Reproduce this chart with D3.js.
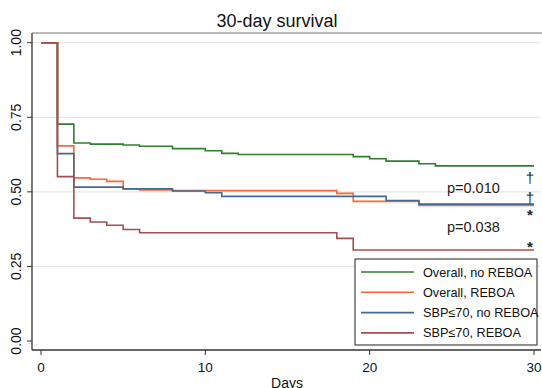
<!DOCTYPE html>
<html>
<head>
<meta charset="utf-8">
<script src="https://cdn.jsdelivr.net/npm/d3@7"></script>
<style>
  body { margin: 0; background: #fff; }
  svg { display: block; font-family: "Liberation Sans", Arial, sans-serif; }
</style>
</head>
<body>
<svg id="chart" width="542" height="388"></svg>
<script>
// Kaplan-Meier step data (day, survival)
const greenDays = [0, 1, 2, 3, 5, 6, 8, 10, 11, 12, 19, 20, 21, 23, 24, 30];
const greenSurv = [1, 0.727, 0.664, 0.660, 0.657, 0.653, 0.645, 0.638, 0.629, 0.625, 0.618, 0.611, 0.603, 0.594, 0.587, 0.587];

const orangeDays = [0, 1, 2, 3, 4, 5, 6, 8, 18, 19, 23, 30];
const orangeSurv = [1, 0.654, 0.547, 0.542, 0.535, 0.510, 0.506, 0.504, 0.495, 0.468, 0.454, 0.454];

const blueDays = [0, 1, 2, 5, 8, 10, 11, 21, 23, 30];
const blueSurv = [1, 0.628, 0.516, 0.510, 0.503, 0.497, 0.485, 0.471, 0.459, 0.459];

const redDays = [0, 1, 2, 3, 4, 5, 6, 18, 19, 30];
const redSurv = [1, 0.551, 0.412, 0.399, 0.388, 0.374, 0.363, 0.344, 0.305, 0.305];

const seriesNames = ['Overall, no REBOA', 'Overall, REBOA', 'SBP\u226470, no REBOA', 'SBP\u226470, REBOA'];
const seriesColors = ['#2f7f2f', '#ff6633', '#456a8f', '#a64d4d'];

const xTicks = [0, 10, 20, 30];
const yTicks = [0, 0.25, 0.5, 0.75, 1];

const pLabels = ['p=0.010', 'p=0.038'];
const pValuesY = [0.497, 0.365];   // baseline of the p labels (survival units)
const markText = ['\u2020', '\u2020', '*', '*'];
const markY = [0.53, 0.462, 0.407, 0.297];

const svg = d3.select('#chart');

const x = d3.scaleLinear().domain([0, 30]).range([41, 534]);
const y = d3.scaleLinear().domain([0, 1]).range([341, 42.7]);

const plotLeft = 32, plotTop = 33, plotBottom = 350, plotRight = 541;

// title
svg.append('text')
  .attr('x', 277).attr('y', 27)
  .attr('text-anchor', 'middle')
  .style('font-size', '18px')
  .attr('fill', '#111')
  .text('30-day survival');

// gridlines
svg.append('g')
  .selectAll('line')
  .data(yTicks.filter(d => d > 0))
  .enter().append('line')
  .attr('x1', plotLeft).attr('x2', plotRight - 1)
  .attr('y1', d => y(d)).attr('y2', d => y(d))
  .attr('stroke', '#e6e6e6').attr('stroke-width', 1.2);

// top border
svg.append('line')
  .attr('x1', plotLeft).attr('x2', 542)
  .attr('y1', plotTop).attr('y2', plotTop)
  .attr('stroke', '#777').attr('stroke-width', 1);

// y axis
const yAxis = svg.append('g').attr('transform', `translate(${plotLeft},0)`);
yAxis.append('line')
  .attr('x1', 0).attr('x2', 0).attr('y1', plotTop).attr('y2', plotBottom)
  .attr('stroke', '#333').attr('stroke-width', 1.3);
yAxis.selectAll('.tick')
  .data(yTicks)
  .enter().append('line')
  .attr('x1', -5).attr('x2', 0)
  .attr('y1', d => y(d)).attr('y2', d => y(d))
  .attr('stroke', '#333');
yAxis.selectAll('.lbl')
  .data(yTicks)
  .enter().append('text')
  .attr('transform', d => `translate(-11,${y(d)}) rotate(-90)`)
  .attr('text-anchor', 'middle')
  .style('font-size', '14px')
  .attr('fill', '#111')
  .text(d => d3.format('.2f')(d));

// x axis
const xAxis = svg.append('g').attr('transform', `translate(0,${plotBottom})`);
xAxis.append('line')
  .attr('x1', plotLeft).attr('x2', plotRight)
  .attr('stroke', '#333').attr('stroke-width', 1.3);
xAxis.selectAll('.tick')
  .data(xTicks)
  .enter().append('line')
  .attr('x1', d => x(d)).attr('x2', d => x(d))
  .attr('y1', 0).attr('y2', 5)
  .attr('stroke', '#333');
xAxis.selectAll('.lbl')
  .data(xTicks)
  .enter().append('text')
  .attr('x', d => x(d)).attr('y', 22)
  .attr('text-anchor', 'middle')
  .style('font-size', '13.5px')
  .attr('fill', '#111')
  .text(d => d);

svg.append('text')
  .attr('x', 287).attr('y', 388)
  .attr('text-anchor', 'middle')
  .style('font-size', '14px')
  .attr('fill', '#111')
  .text('Days');

// survival curves
const series = [
  { days: greenDays, surv: greenSurv },
  { days: orangeDays, surv: orangeSurv },
  { days: blueDays, surv: blueSurv },
  { days: redDays, surv: redSurv }
];

const line = d3.line()
  .x(d => x(d[0]))
  .y(d => y(d[1]))
  .curve(d3.curveStepAfter);

series.forEach((s, i) => {
  const pts = s.days.map((d, j) => [d, s.surv[j]]);
  svg.append('path')
    .datum(pts)
    .attr('fill', 'none')
    .attr('stroke', seriesColors[i])
    .attr('stroke-width', 1.6)
    .attr('d', line);
});

// annotations
svg.selectAll('.pval')
  .data(pLabels)
  .enter().append('text')
  .attr('x', 447)
  .attr('y', (d, i) => y(pValuesY[i]))
  .style('font-size', '14.5px')
  .attr('fill', '#222')
  .text(d => d);

svg.selectAll('.mark')
  .data(markText)
  .enter().append('text')
  .attr('x', 530)
  .attr('y', (d, i) => y(markY[i]))
  .attr('text-anchor', 'middle')
  .style('font-size', d => d === '*' ? '15px' : '15px')
  .style('font-weight', d => d === '*' ? 'bold' : 'normal')
  .attr('fill', '#222')
  .text(d => d);

// legend
const legend = svg.append('g').attr('transform', 'translate(355,259)');
legend.append('rect')
  .attr('width', 182).attr('height', 86)
  .attr('fill', '#fff')
  .attr('stroke', '#444').attr('stroke-width', 1.2);
const rows = legend.selectAll('.row')
  .data(seriesNames)
  .enter().append('g')
  .attr('transform', (d, i) => `translate(0,${13 + i * 20.3})`);
rows.append('line')
  .attr('x1', 6).attr('x2', 59)
  .attr('stroke', (d, i) => seriesColors[i])
  .attr('stroke-width', 1.6);
rows.append('text')
  .attr('x', 68).attr('y', 4.5)
  .style('font-size', '12.7px')
  .attr('fill', '#111')
  .text(d => d);
</script>
</body>
</html>
